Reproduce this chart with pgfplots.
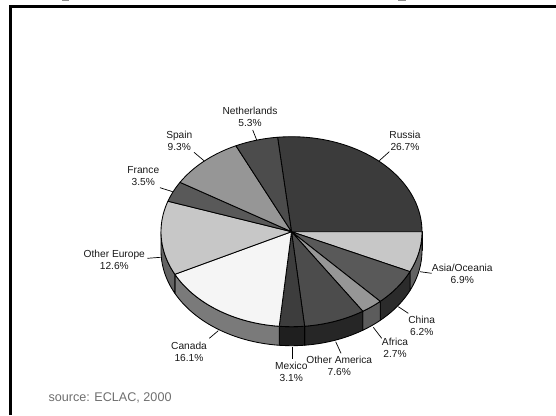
\documentclass[border=0pt]{standalone}
\usepackage{pgfplots}
\pgfplotsset{compat=1.18}
\usepackage{fontspec}
\setmainfont{Liberation Sans}
\pgfmathsetmacro{\cx}{291.5}
\pgfmathsetmacro{\cy}{231.7}
\def\rx{130.5}
\def\ry{95}
\def\dep{19}
% arc points from angle #1 to #2 at vertical shift #3, appended to \coords
\newcommand{\addarc}[3]{%
  \pgfmathtruncatemacro{\n}{max(2,ceil(abs(#2-#1)/2))}%
  \foreach \i in {0,...,\n}{%
    \pgfmathsetmacro{\t}{#1+(#2-#1)*\i/\n}%
    \pgfmathsetmacro{\x}{\cx+\rx*cos(\t)}%
    \pgfmathsetmacro{\y}{\cy-\ry*sin(\t)+#3}%
    \xdef\coords{\coords (\x,\y)}%
  }%
}
\newcommand{\plotcoords}[1]{%
  \edef\temp{\noexpand\addplot[draw=black,line width=0.85pt,line join=round,fill=#1,mark=none] coordinates {\coords};}%
  \temp
}
% top face: share #1 (percent), grey #2
\newcommand{\slice}[2]{%
  \pgfmathsetmacro{\endA}{\curA-#1*3.6}%
  \xdef\coords{(\cx,\cy)}%
  \addarc{\curA}{\endA}{0}%
  \xdef\coords{\coords (\cx,\cy)}%
  \plotcoords{#2}%
  \xdef\curA{\endA}%
}
% front wall: share #1, grey #2
\newcommand{\wall}[2]{%
  \pgfmathsetmacro{\endA}{\curA-#1*3.6}%
  \pgfmathsetmacro{\aa}{min(\curA,0)}%
  \pgfmathsetmacro{\bb}{max(\endA,-180)}%
  \pgfmathparse{\aa>\bb ? 1 : 0}%
  \ifnum\pgfmathresult=1
    \xdef\coords{}%
    \addarc{\aa}{\bb}{0}%
    \addarc{\bb}{\aa}{\dep}%
    \pgfmathsetmacro{\x}{\cx+\rx*cos(\aa)}%
    \pgfmathsetmacro{\y}{\cy-\ry*sin(\aa)}%
    \xdef\coords{\coords (\x,\y)}%
    \plotcoords{#2}%
  \fi
  \xdef\curA{\endA}%
}
\definecolor{srcgray}{HTML}{6E6E6E}
\newcommand{\lab}[4]{\node[align=center,inner sep=0pt,font=\fontsize{10.2}{12}\selectfont,text=black!90] at (axis cs:#1,#2) {#3\\#4};}
\newcommand{\lead}[4]{\draw[black,line width=0.7pt] (axis cs:#1,#2) -- (axis cs:#3,#4);}
\begin{document}
\begin{tikzpicture}
\useasboundingbox (0,0) rectangle (556pt,415pt);
\begin{axis}[
  scale only axis, width=556pt, height=415pt,
  xmin=0, xmax=556, ymin=0, ymax=415, y dir=reverse,
  hide axis, clip=false, anchor=south west, at={(0,0)}
]
\xdef\curA{96.12}
% front walls
\wall{26.7}{black!50}
\wall{6.9}{white!39!black}
\wall{6.2}{white!17!black}
\wall{2.7}{white!36!black}
\wall{7.6}{white!15!black}
\wall{3.1}{white!12!black}
\wall{16.1}{white!48!black}
\wall{12.6}{white!39!black}
\wall{3.5}{black}
\wall{9.3}{black}
\wall{5.3}{black}
% top faces
\xdef\curA{96.12}
\slice{26.7}{white!23!black}
\slice{6.9}{white!78!black}
\slice{6.2}{white!35!black}
\slice{2.7}{white!59!black}
\slice{7.6}{white!30!black}
\slice{3.1}{white!24!black}
\slice{16.1}{white!96!black}
\slice{12.6}{white!78!black}
\slice{3.5}{white!35!black}
\slice{9.3}{white!59!black}
\slice{5.3}{white!30!black}
% frame
\draw[black,line width=3.5pt] (axis cs:10.3,415) -- (axis cs:10.3,6.5) -- (axis cs:556,6.5);
\fill[black!45] (axis cs:62,0) rectangle (axis cs:69,1);
\fill[black!45] (axis cs:398,0) rectangle (axis cs:406,1);
% leaders
\lead{379.3}{160.7}{389.3}{151.7}
\lead{194}{152.3}{204}{160.7}
\lead{252.7}{130}{256.7}{140}
\lead{160}{187.7}{172.7}{191.7}
\lead{147.3}{258.3}{160.7}{257.3}
\lead{420}{271.7}{431.7}{273.3}
\lead{398.3}{306.7}{408.3}{313.3}
\lead{373.3}{327.3}{381.7}{338.3}
\lead{335.7}{341.7}{341}{353.3}
\lead{292}{346.7}{292}{359.3}
\lead{209.3}{338.3}{218.3}{330.7}
% labels
\lab{405}{141.3}{Russia}{26.7\%}
\lab{462.3}{274.3}{Asia/Oceania}{6.9\%}
\lab{421.7}{325.5}{China}{6.2\%}
\lab{395}{347.7}{Africa}{2.7\%}
\lab{339.3}{365.5}{Other America}{7.6\%}
\lab{291.3}{372.3}{Mexico}{3.1\%}
\lab{189}{352.3}{Canada}{16.1\%}
\lab{114.3}{259.7}{Other Europe}{12.6\%}
\lab{143.3}{176.5}{France}{3.5\%}
\lab{179.3}{141.3}{Spain}{9.3\%}
\lab{250}{116.7}{Netherlands}{5.3\%}
\node[anchor=west,inner sep=0pt,font=\fontsize{12.6}{14}\selectfont,text=srcgray] at (axis cs:48.3,398.3) {source: ECLAC, 2000};
\end{axis}
\end{tikzpicture}
\end{document}
